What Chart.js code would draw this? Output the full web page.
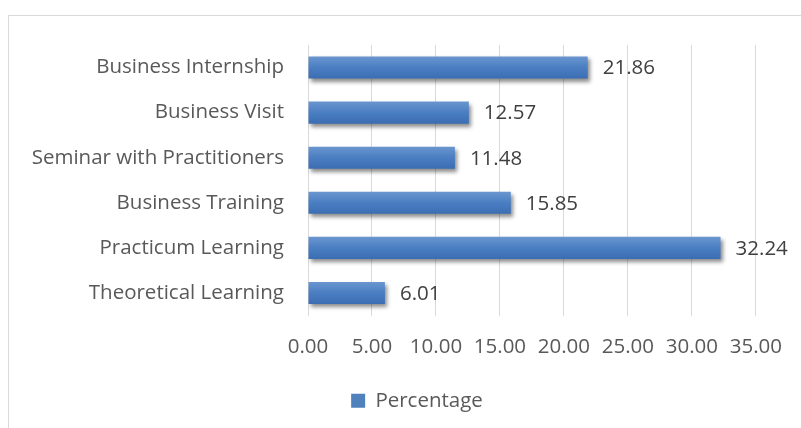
<!DOCTYPE html>
<html>
<head>
<meta charset="utf-8">
<script src="https://cdn.jsdelivr.net/npm/chart.js@4.4.1/dist/chart.umd.min.js"></script>
<style>
  html, body { margin: 0; padding: 0; background: #fff; overflow: hidden; }
  #frame { position: absolute; left: 8px; top: 15px; width: 900px; height: 500px; border: 1px solid #d9d9d9; }
  #wrap { position: absolute; left: 0; top: 0; width: 801px; height: 428px; }
</style>
</head>
<body>
<div id="frame"></div>
<div id="wrap"><canvas id="chart" width="801" height="428"></canvas></div>
<script>
// categories top to bottom, as in the picture
const categories = [
  "Business Internship",
  "Business Visit",
  "Seminar with Practitioners",
  "Business Training",
  "Practicum Learning",
  "Theoretical Learning"
];
const percentage = [21.86, 12.57, 11.48, 15.85, 32.24, 6.01];
const seriesName = "Percentage";
const xMin = 0, xMax = 35, xStep = 5;

const fontFamily = "'Open Sans', Lato, sans-serif";
const fontSize = 20.5;
const textColor = "#595959";

// gradient for each bar, built from the y scale
function barFill(c) {
  const ch = c.chart;
  const ys = ch.scales.y;
  if (!ys || c.dataIndex === undefined) return "#4f81bd";
  const cy = ys.getPixelForValue(c.dataIndex);
  const g = ch.ctx.createLinearGradient(0, cy - 11, 0, cy + 11);
  g.addColorStop(0, "#6a96cf");
  g.addColorStop(0.5, "#4a7ec2");
  g.addColorStop(1, "#3b6db3");
  return g;
}

// drop shadow under bars, value labels after
const barExtras = {
  id: "barExtras",
  afterLayout(chart) {
    // the legend sits a bit right of the plot centre in the original
    chart.legend.left += 38;
    chart.legend.right += 38;
  },
  beforeDatasetsDraw(chart) {
    const ctx = chart.ctx;
    ctx.save();
    ctx.shadowColor = "rgba(0,0,0,0.45)";
    ctx.shadowBlur = 4;
    ctx.shadowOffsetX = 2;
    ctx.shadowOffsetY = 3;
  },
  afterDatasetsDraw(chart) {
    const ctx = chart.ctx;
    ctx.restore();
    const meta = chart.getDatasetMeta(0);
    ctx.save();
    ctx.font = fontSize + "px " + fontFamily;
    ctx.fillStyle = "#404040";
    ctx.textAlign = "left";
    ctx.textBaseline = "middle";
    meta.data.forEach((bar, i) => {
      ctx.fillText(percentage[i].toFixed(2), bar.x + 15, bar.y + 1);
    });
    ctx.restore();
  }
};

const ctx = document.getElementById("chart").getContext("2d");
const chart = new Chart(ctx, {
  type: "bar",
  data: {
    labels: categories,
    datasets: [{
      label: seriesName,
      data: percentage,
      backgroundColor: barFill,
      borderWidth: 0,
      barPercentage: 0.49,
      categoryPercentage: 1
    }]
  },
  options: {
    indexAxis: "y",
    responsive: false,
    animation: false,
    layout: { padding: { top: 45, right: 43, left: 0, bottom: 7 } },
    scales: {
      x: {
        min: xMin,
        max: xMax,
        ticks: {
          stepSize: xStep,
          color: textColor,
          padding: 19,
          font: { family: fontFamily, size: fontSize },
          callback: (v) => Number(v).toFixed(2)
        },
        grid: { color: "#d9d9d9", lineWidth: 1, drawTicks: false },
        border: { display: false },
        afterFit: (s) => { s.height = 65; }
      },
      y: {
        ticks: {
          color: textColor,
          padding: 24,
          font: { family: fontFamily, size: fontSize }
        },
        grid: { display: false, drawTicks: false },
        border: { display: false },
        afterFit: (s) => { s.width = 308; }
      }
    },
    plugins: {
      legend: {
        position: "bottom",
        labels: {
          boxWidth: 14,
          boxHeight: 14,
          padding: 10,
          color: textColor,
          font: { family: fontFamily, size: fontSize },
          generateLabels: (ch) => [{
            text: seriesName,
            fillStyle: "#4f81bd",
            strokeStyle: "#4f81bd",
            lineWidth: 0,
            datasetIndex: 0,
            fontColor: textColor
          }]
        }
      },
      tooltip: { enabled: false }
    }
  },
  plugins: [barExtras]
});
</script>
</body>
</html>
